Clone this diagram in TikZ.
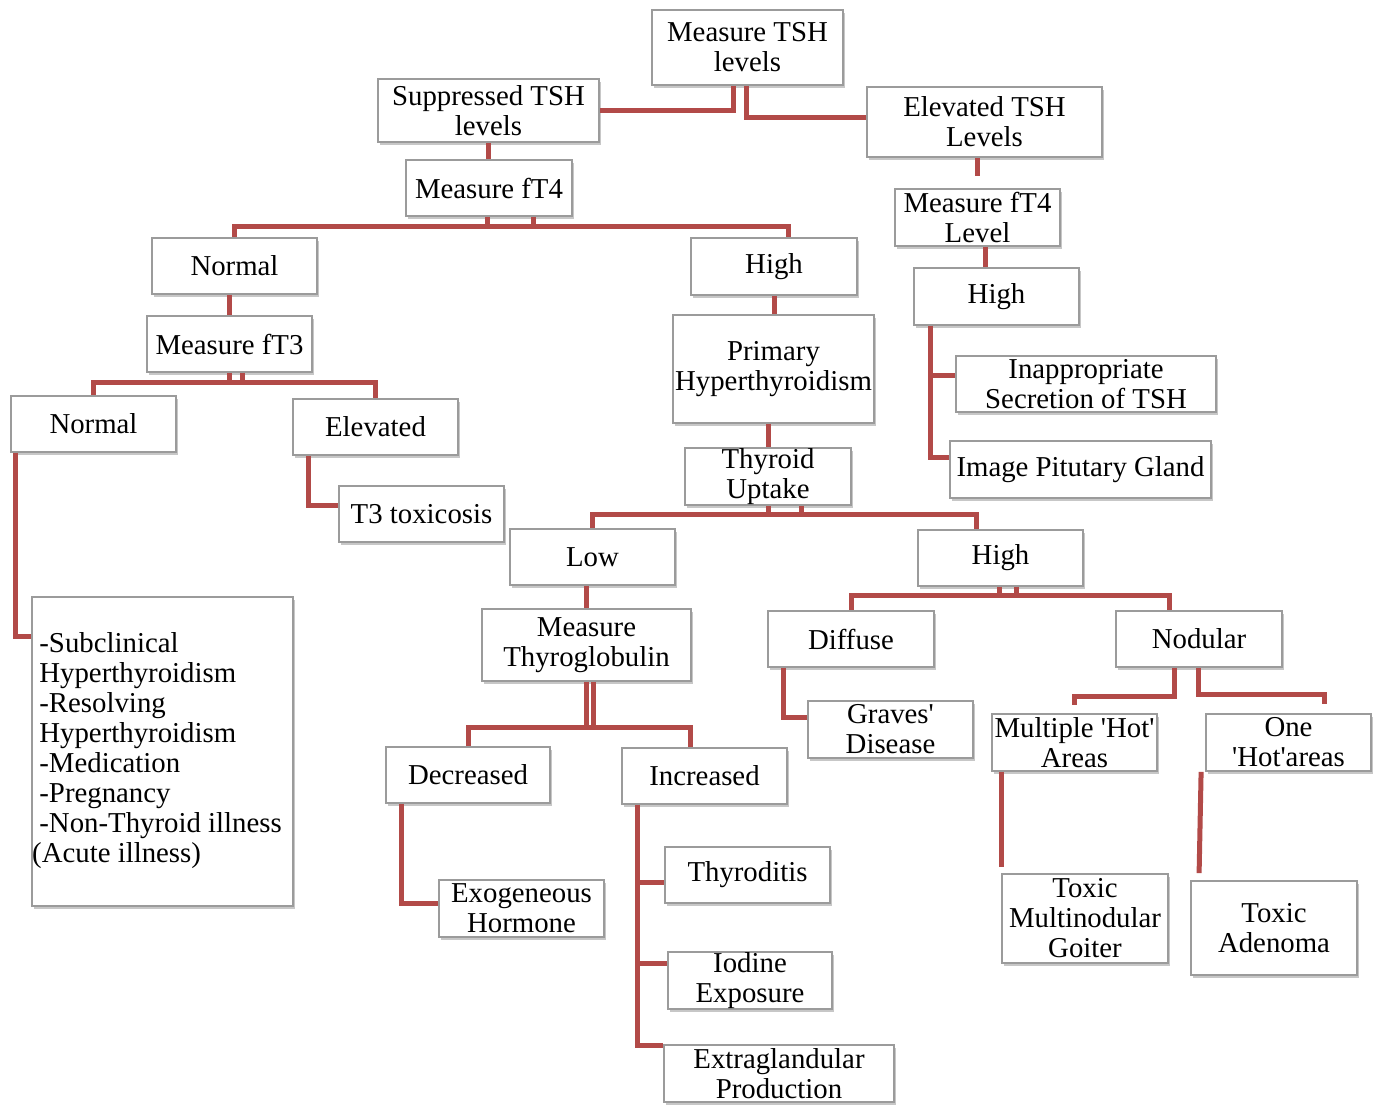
\documentclass[tikz,border=0pt]{standalone}
\usepackage{fontspec}
\setmainfont{Liberation Serif}
\usetikzlibrary{calc,shadows}
\definecolor{linkred}{RGB}{178,74,72}
\definecolor{boxgray}{RGB}{155,155,155}
\tikzset{
  box/.style={draw=boxgray, line width=0.9pt, fill=white, align=center,
    inner sep=0pt, font=\fontsize{14.4}{15}\selectfont,
    drop shadow={shadow xshift=1.2pt, shadow yshift=-1.6pt, fill=black, opacity=0.22}},
  link/.style={draw=linkred, line width=2.5pt}
}
% box: name, left, top, right, bottom, text
\newcommand\bx[6]{\node[box, minimum width={(#4-#2)*0.5pt}, minimum height={(#5-#3)*0.5pt}]
  (#1) at ({(#2+#4)/2},{(#3+#5)/2}) {#6};}
\begin{document}
\begin{tikzpicture}[x=0.5pt,y=-0.5pt]
\useasboundingbox (0,0) rectangle (1375,1104);

% boxes
\bx{tsh}{652}{10}{843}{85}{Measure TSH\\levels}
\bx{sup}{378}{79}{599}{142}{Suppressed TSH\\levels}
\bx{elev}{867}{87}{1102}{157}{Elevated TSH\\Levels}
\bx{ftfa}{406}{160}{572}{216}{Measure fT4}
\bx{normA}{152}{238}{317}{294}{Normal}
\bx{highA}{691}{238}{857}{295}{High}
\bx{ftt}{147}{316}{312}{372}{Measure fT3}
\bx{normB}{11}{396}{176}{452}{Normal}
\bx{elevB}{293}{399}{458}{455}{Elevated}
\bx{tox}{339}{486}{504}{542}{T3 toxicosis}
\bx{list}{32}{597}{293}{906}{}
\node[anchor=west, align=left, inner sep=0pt, font=\fontsize{14.4}{15}\selectfont]
  (listtxt) at (39,751) {-Subclinical\\Hyperthyroidism\\-Resolving\\Hyperthyroidism\\-Medication\\-Pregnancy\\-Non-Thyroid illness\\\hspace*{-3.6pt}(Acute illness)};
\bx{prim}{673}{315}{874}{423}{Primary\\Hyperthyroidism}
\bx{thy}{685}{448}{851}{505}{Thyroid\\Uptake}
\bx{ftfb}{895}{189}{1060}{246}{Measure fT4\\Level}
\bx{highB}{914}{268}{1079}{325}{High}
\bx{inap}{956}{356}{1216}{412}{Inappropriate\\Secretion of TSH}
\bx{img}{950}{441}{1211}{498}{Image Pitutary Gland}
\bx{low}{510}{529}{675}{585}{Low}
\bx{highC}{918}{530}{1083}{586}{High}
\bx{mtg}{482}{609}{691}{681}{Measure\\Thyroglobulin}
\bx{diff}{768}{611}{934}{667}{Diffuse}
\bx{nod}{1116}{611}{1282}{667}{Nodular}
\bx{grav}{808}{701}{973}{758}{Graves\textquotesingle\\Disease}
\bx{mult}{992}{714}{1157}{771}{Multiple \textquotesingle Hot\textquotesingle\\Areas}
\bx{one}{1206}{714}{1371}{771}{One\\\textquotesingle Hot\textquotesingle areas}
\bx{dec}{386}{747}{550}{803}{Decreased}
\bx{inc}{622}{748}{787}{804}{Increased}
\bx{exo}{439}{880}{604}{937}{Exogeneous\\Hormone}
\bx{thyd}{665}{847}{830}{903}{Thyroditis}
\bx{iod}{668}{952}{832}{1009}{Iodine\\Exposure}
\bx{extra}{664}{1045}{894}{1102}{Extraglandular\\Production}
\bx{tmg}{1002}{874}{1168}{963}{Toxic\\Multinodular\\Goiter}
\bx{ta}{1191}{881}{1357}{975}{Toxic\\Adenoma}

% connectors
\draw[link] ($(tsh.south)+(-14,0)$) |- (sup.east);
\draw[link] ($(tsh.south)+(-1,0)$) |- ($(elev.west)+(0,-5)$);
\draw[link] (sup.south) -- (sup.south |- ftfa.north);
% two-stub buses: each stub runs across to the far child
\draw[link] ($(ftfa.south)+(44,0)$) -- ++(0,10) -| (normA.north);
\draw[link] ($(ftfa.south)+(-2,0)$) -- ++(0,10) -| ($(highA.north)+(14,0)$);
\draw[link] (ftt.north |- normA.south) -- (ftt.north);
\draw[link] ($(ftt.south)+(13,0)$) -- ++(0,10) -| (normB.north);
\draw[link] (ftt.south) -- ++(0,10) -| (elevB.north);
\draw[link] ($(elevB.south west)+(16,0)$) |- ($(tox.west)+(0,-9)$);
\draw[link] ($(normB.south west)+(5,0)$) |- ($(list.west)+(0,-115)$);
\draw[link] (highA.south) -- (highA.south |- prim.north);
\draw[link] (thy.north |- prim.south) -- (thy.north);
\draw[link] ($(thy.south)+(33,0)$) -- ++(0,9) -| (low.north);
\draw[link] (thy.south) -- ++(0,9) -| ($(highC.north)+(-24,0)$);
\draw[link] (ftfb.north |- elev.south) -- ($(ftfb.north)+(0,-12)$);
\draw[link] ($(ftfb.south)+(8,0)$) coordinate (fb) -- (fb |- highB.north);
\draw[link] ($(highB.south west)+(17,0)$) |- ($(img.west)+(0,-12)$);
\draw[link] ($(highB.south west)+(17,0)$) |- ($(inap.west)+(0,-9)$);
\draw[link] (mtg.north |- low.south) -- (mtg.north);
\draw[link] ($(mtg.south)+(7,0)$) -- ++(0,46) -| (dec.north);
\draw[link] (mtg.south) -- ++(0,46) -| ($(inc.north)+(-14,0)$);
\draw[link] ($(dec.south west)+(16,0)$) |- ($(exo.west)+(0,-5)$);
\draw[link] ($(inc.south west)+(16,0)$) |- ($(extra.west)+(0,-28)$);
\draw[link] ($(inc.south west)+(16,0)$) |- ($(thyd.west)+(0,7)$);
\draw[link] ($(inc.south west)+(16,0)$) |- ($(iod.west)+(0,-17)$);
\draw[link] ($(highC.south)+(16,0)$) -- ++(0,9) -| (diff.north);
\draw[link] ($(highC.south)+(-1,0)$) -- ++(0,9) -| ($(nod.north)+(-30,0)$);
\draw[link] ($(diff.south west)+(16,0)$) |- ($(grav.west)+(0,-12)$);
\draw[link] ($(nod.south)+(-25,0)$) -- ++(0,29) -| ($(mult.north)+(0,-8)$);
\draw[link] ($(nod.south)+(-1,0)$) -- ++(0,27) -| ($(one.north)+(36,-9)$);
\draw[link] ($(mult.south west)+(10,0)$) -- ($(tmg.north west)+(0,-6)$);
\draw[link] ($(one.south west)+(-4,0)$) -- ($(ta.north west)+(9,-7)$);
\end{tikzpicture}
\end{document}
